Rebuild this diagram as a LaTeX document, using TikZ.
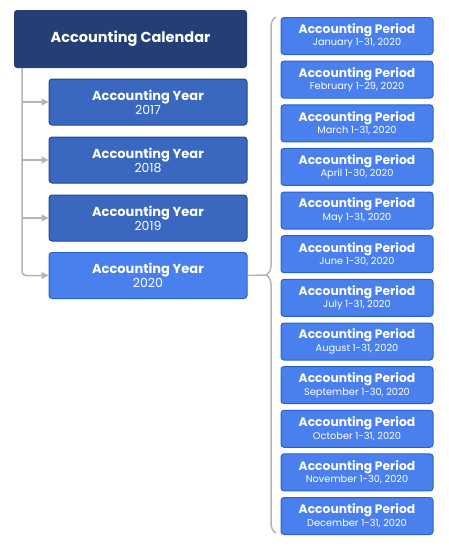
\documentclass[tikz,border=0pt]{standalone}
\usepackage{fontspec}
\setmainfont{Poppins}
\usetikzlibrary{arrows.meta, decorations.pathreplacing}

\definecolor{CalendarNavy}{RGB}{35,63,117}
\definecolor{YearBlue}{RGB}{58,103,192}
\definecolor{YearEdge}{RGB}{33,72,150}
\definecolor{PeriodBlue}{RGB}{74,128,238}
\definecolor{PeriodEdge}{RGB}{40,100,200}
\definecolor{LinkGray}{RGB}{180,180,180}

\begin{document}
\begin{tikzpicture}[x=1pt, y=-1pt,
    box/.style={rectangle, rounded corners=3pt, text=white, align=center, inner sep=0pt, line width=1pt},
    calbox/.style={box, fill=CalendarNavy, minimum width=233pt, minimum height=58pt, font=\fontsize{14.5}{16}\selectfont\bfseries},
    yearbox/.style={box, fill=YearBlue, draw=YearEdge, minimum width=198pt, minimum height=46pt, font=\fontsize{13}{14}\selectfont},
    currentyear/.style={yearbox, fill=PeriodBlue, draw=PeriodEdge},
    periodbox/.style={box, fill=PeriodBlue, draw=PeriodEdge, minimum width=152pt, minimum height=37pt, font=\fontsize{12.3}{12.5}\selectfont},
    link/.style={draw=LinkGray, line width=1.5pt},
    linkarrow/.style={link, -{Triangle[length=7pt, width=7pt]}}]
    \useasboundingbox (0, 0) rectangle (449, 550);

    \node[calbox] (calendar) at (130.5, 39) {Accounting Calendar};

    \node[yearbox] (y2017) at (148, 102) {\textbf{Accounting Year}\\ {\fontsize{12.5}{13}\selectfont 2017}};
    \node[yearbox] (y2018) at (148, 160) {\textbf{Accounting Year}\\ {\fontsize{12.5}{13}\selectfont 2018}};
    \node[yearbox] (y2019) at (148, 218) {\textbf{Accounting Year}\\ {\fontsize{12.5}{13}\selectfont 2019}};
    \node[currentyear] (y2020) at (148, 275.5) {\textbf{Accounting Year}\\ {\fontsize{12.5}{13}\selectfont 2020}};

    \node[periodbox] (p01) at (357, 36) {\textbf{Accounting Period}\\ {\fontsize{9.8}{10}\selectfont January 1-31, 2020}};
    \node[periodbox] (p02) at (357, 79.6) {\textbf{Accounting Period}\\ {\fontsize{9.8}{10}\selectfont February 1-29, 2020}};
    \node[periodbox] (p03) at (357, 123.3) {\textbf{Accounting Period}\\ {\fontsize{9.8}{10}\selectfont March 1-31, 2020}};
    \node[periodbox] (p04) at (357, 166.9) {\textbf{Accounting Period}\\ {\fontsize{9.8}{10}\selectfont April 1-30, 2020}};
    \node[periodbox] (p05) at (357, 210.5) {\textbf{Accounting Period}\\ {\fontsize{9.8}{10}\selectfont May 1-31, 2020}};
    \node[periodbox] (p06) at (357, 254.2) {\textbf{Accounting Period}\\ {\fontsize{9.8}{10}\selectfont June 1-30, 2020}};
    \node[periodbox] (p07) at (357, 297.8) {\textbf{Accounting Period}\\ {\fontsize{9.8}{10}\selectfont July 1-31, 2020}};
    \node[periodbox] (p08) at (357, 341.5) {\textbf{Accounting Period}\\ {\fontsize{9.8}{10}\selectfont August 1-31, 2020}};
    \node[periodbox] (p09) at (357, 385.1) {\textbf{Accounting Period}\\ {\fontsize{9.8}{10}\selectfont September 1-30, 2020}};
    \node[periodbox] (p10) at (357, 428.8) {\textbf{Accounting Period}\\ {\fontsize{9.8}{10}\selectfont October 1-31, 2020}};
    \node[periodbox] (p11) at (357, 472.4) {\textbf{Accounting Period}\\ {\fontsize{9.8}{10}\selectfont November 1-30, 2020}};
    \node[periodbox] (p12) at (357, 516) {\textbf{Accounting Period}\\ {\fontsize{9.8}{10}\selectfont December 1-31, 2020}};

    % calendar to years
    \coordinate (trunk) at (22, 68);
    \draw[linkarrow, rounded corners=4pt] (trunk) |- (y2020.west);
    \draw[linkarrow] (trunk |- y2017.west) -- (y2017.west);
    \draw[linkarrow] (trunk |- y2018.west) -- (y2018.west);
    \draw[linkarrow] (trunk |- y2019.west) -- (y2019.west);

    % 2020 to its periods
    \coordinate (bracetop) at (276, 17);
    \coordinate (bracebot) at (276, 533);
    \coordinate (bracetip) at (266, 275);
    \draw[link, decorate, decoration={brace, amplitude=10pt}] (bracebot) -- (bracetop);
    \draw[link] (y2020.east) -- (bracetip);
\end{tikzpicture}
\end{document}
